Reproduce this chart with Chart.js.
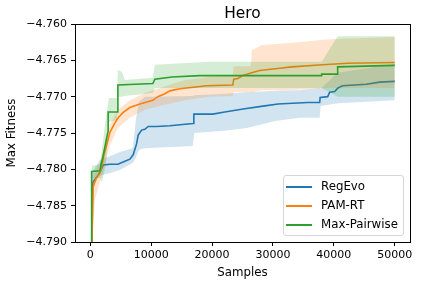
<!DOCTYPE html>
<html>
<head>
<meta charset="utf-8">
<script src="https://cdn.jsdelivr.net/npm/chart.js@4/dist/chart.umd.min.js"></script>
<style>
  html, body { margin: 0; padding: 0; background: #fff; }
  #wrap { position: relative; width: 421px; height: 286px; font-family: "DejaVu Sans", sans-serif; color: #000; }
  #title { position: absolute; left: 0; width: 485px; top: 6px; text-align: center; font-size: 15.4px; line-height: 1; }
  #legend { position: absolute; left: 283px; top: 175px; width: 119px; height: 59px; border: 1px solid #d6d6d6; border-radius: 3px; background: rgba(255,255,255,0.8); font-size: 11.8px; }
  .row { position: absolute; left: 0; height: 19px; line-height: 19px; width: 119px; }
  .sw { position: absolute; left: 2px; top: 9px; width: 26px; height: 2px; }
  .lb { position: absolute; left: 37px; top: 0; white-space: nowrap; }
</style>
</head>
<body>
<div id="wrap">
  <canvas id="chart" width="421" height="286"></canvas>
  <div id="title">Hero</div>
  <div id="legend"></div>
</div>
<script>
// series lines (samples, max fitness)
const regEvoX = [230, 360, 490, 1050, 1590, 2130, 3230, 4540, 5690, 6510, 7050, 7610, 7870, 8430, 8970, 9510, 10890, 13070, 16890, 17010, 20120, 22090, 25090, 28370, 30830, 35700, 37670, 37750, 38980, 39310, 40130, 40670, 41440, 45330, 47510, 50000];
const regEvoY = [-4.7920, -4.7822, -4.7817, -4.7811, -4.7804, -4.7794, -4.7793, -4.7793, -4.7789, -4.7786, -4.7780, -4.7765, -4.7753, -4.7746, -4.7745, -4.7741, -4.7741, -4.7740, -4.7737, -4.7724, -4.7724, -4.7721, -4.7717, -4.7713, -4.7710, -4.7708, -4.7708, -4.7701, -4.7700, -4.7694, -4.7693, -4.7688, -4.7685, -4.7683, -4.7680, -4.7679];

const pamX = [230, 490, 1050, 1590, 1870, 2250, 2690, 3230, 4050, 4590, 5360, 6510, 8150, 10280, 11100, 12250, 13070, 14710, 19140, 23400, 23570, 24220, 25040, 26520, 27830, 31110, 33080, 38160, 42260, 50000];
const pamY = [-4.7920, -4.7824, -4.7811, -4.7805, -4.7797, -4.7780, -4.7767, -4.7749, -4.7736, -4.7729, -4.7722, -4.7715, -4.7710, -4.7705, -4.7700, -4.7696, -4.7692, -4.7689, -4.7685, -4.7684, -4.7676, -4.7675, -4.7671, -4.7667, -4.7664, -4.7661, -4.7659, -4.7656, -4.7654, -4.7653];

const maxPairX = [230, 230, 1590, 1750, 2080, 2410, 2690, 2950, 2950, 4460, 4540, 10280, 10610, 13400, 18000, 38000, 38000, 40620, 40620, 50000];
const maxPairY = [-4.7920, -4.7803, -4.7802, -4.7794, -4.7783, -4.7769, -4.7757, -4.7747, -4.7721, -4.7721, -4.7684, -4.7682, -4.7676, -4.7673, -4.7671, -4.7671, -4.7669, -4.7669, -4.7659, -4.7657];

// shaded bands (upper / lower)
const regEvoBandX = [280, 1590, 3230, 4870, 7000, 7490, 7990, 8970, 16840, 17090, 22090, 25700, 30620, 34390, 37670, 37830, 40620, 50000];
const regEvoHi = [-4.7804, -4.7787, -4.7782, -4.7776, -4.7771, -4.7732, -4.7707, -4.7700, -4.7699, -4.7698, -4.7696, -4.7694, -4.7692, -4.7691, -4.7688, -4.7689, -4.7667, -4.7655];
const regEvoLo = [-4.7823, -4.7809, -4.7805, -4.7801, -4.7791, -4.7784, -4.7773, -4.7771, -4.7768, -4.7750, -4.7747, -4.7743, -4.7733, -4.7729, -4.7729, -4.7713, -4.7709, -4.7705];

const pamBandX = [280, 770, 1590, 2410, 3230, 4540, 6510, 8970, 11430, 15530, 19630, 23400, 23570, 26360, 26520, 28160, 32750, 39310, 50000];
const pamHi = [-4.7815, -4.7804, -4.7790, -4.7767, -4.7739, -4.7718, -4.7705, -4.7695, -4.7688, -4.7677, -4.7673, -4.7672, -4.7658, -4.7658, -4.7636, -4.7629, -4.7626, -4.7621, -4.7618];
const pamLo = [-4.7897, -4.7842, -4.7817, -4.7794, -4.7767, -4.7743, -4.7729, -4.7718, -4.7713, -4.7705, -4.7700, -4.7699, -4.7694, -4.7694, -4.7694, -4.7691, -4.7691, -4.7688, -4.7688];

const maxPairBandX = [280, 1590, 1920, 2570, 3070, 4380, 4540, 5200, 5690, 10280, 10610, 19630, 38000, 40620, 50000];
const maxPairHi = [-4.7795, -4.7793, -4.7773, -4.7729, -4.7702, -4.7702, -4.7663, -4.7666, -4.7677, -4.7674, -4.7656, -4.7652, -4.7652, -4.7617, -4.7617];
const maxPairLo = [-4.7812, -4.7812, -4.7817, -4.7794, -4.7735, -4.7732, -4.7700, -4.7700, -4.7699, -4.7695, -4.7688, -4.7688, -4.7688, -4.7700, -4.7700];

const seriesNames = ["RegEvo", "PAM-RT", "Max-Pairwise"];
const seriesColors = ["#1f77b4", "#ff7f0e", "#2ca02c"];
const bandColors = ["rgba(31,119,180,0.2)", "rgba(255,127,14,0.2)", "rgba(44,160,44,0.2)"];

const xTicks = [0, 10000, 20000, 30000, 40000, 50000];

function pts(xs, ys) {
  return xs.map((x, i) => ({ x: x, y: ys[i] }));
}

function lineSet(label, xs, ys, color) {
  return { label, data: pts(xs, ys), borderColor: color, borderWidth: 1.6, pointRadius: 0, tension: 0, fill: false };
}

function bandSet(xs, ys, color, fill) {
  return { label: "", data: pts(xs, ys), borderColor: "transparent", borderWidth: 0, pointRadius: 0, tension: 0, backgroundColor: color, fill: fill };
}

// first dataset is drawn on top
const datasets = [
  lineSet(seriesNames[2], maxPairX, maxPairY, seriesColors[2]),
  bandSet(maxPairBandX, maxPairHi, bandColors[2], "+1"),
  bandSet(maxPairBandX, maxPairLo, bandColors[2], false),
  lineSet(seriesNames[1], pamX, pamY, seriesColors[1]),
  bandSet(pamBandX, pamHi, bandColors[1], "+1"),
  bandSet(pamBandX, pamLo, bandColors[1], false),
  lineSet(seriesNames[0], regEvoX, regEvoY, seriesColors[0]),
  bandSet(regEvoBandX, regEvoHi, bandColors[0], "+1"),
  bandSet(regEvoBandX, regEvoLo, bandColors[0], false)
];

const frame = {
  id: "frame",
  afterDatasetsDraw(chart) {
    const a = chart.chartArea;
    const ctx = chart.ctx;
    ctx.save();
    ctx.strokeStyle = "#000";
    ctx.lineWidth = 1;
    ctx.strokeRect(Math.round(a.left) + 0.5, Math.round(a.top) + 0.5, Math.round(a.right - a.left), Math.round(a.bottom - a.top));
    ctx.restore();
  }
};

const font = { family: "DejaVu Sans", size: 11 };
const labelFont = { family: "DejaVu Sans", size: 11.8 };

new Chart(document.getElementById("chart"), {
  type: "line",
  data: { datasets },
  plugins: [frame],
  options: {
    responsive: false,
    animation: false,
    devicePixelRatio: 1,
    layout: { padding: { top: 24, right: 11, left: 0, bottom: 0 } },
    plugins: { legend: { display: false }, tooltip: { enabled: false }, title: { display: false } },
    scales: {
      x: {
        type: "linear",
        min: -2500,
        max: 52500,
        afterFit: s => { s.height = 44; },
        afterBuildTicks: s => { s.ticks = xTicks.map(v => ({ value: v })); },
        ticks: { color: "#000", font, padding: 3, maxRotation: 0, callback: v => String(v) },
        grid: { drawOnChartArea: false, drawTicks: true, tickLength: 4, color: "#000" },
        border: { display: false },
        title: { display: true, text: "Samples", color: "#000", font: labelFont, padding: { top: 0, bottom: 6 } }
      },
      y: {
        min: -4.790,
        max: -4.760,
        afterFit: s => { s.width = 75; },
        ticks: { color: "#000", font, padding: 4, stepSize: 0.005, callback: v => "\u2212" + Math.abs(v).toFixed(3) },
        grid: { drawOnChartArea: false, drawTicks: true, tickLength: 4, color: "#000" },
        border: { display: false },
        title: { display: true, text: "Max Fitness", color: "#000", font: labelFont, padding: { top: 5, bottom: 0 } }
      }
    }
  }
});

const legend = document.getElementById("legend");
seriesNames.forEach((name, i) => {
  const row = document.createElement("div");
  row.className = "row";
  row.style.top = (1 + 19 * i) + "px";
  row.innerHTML = '<div class="sw" style="background:' + seriesColors[i] + '"></div><div class="lb">' + name + '</div>';
  legend.appendChild(row);
});
</script>
</body>
</html>
